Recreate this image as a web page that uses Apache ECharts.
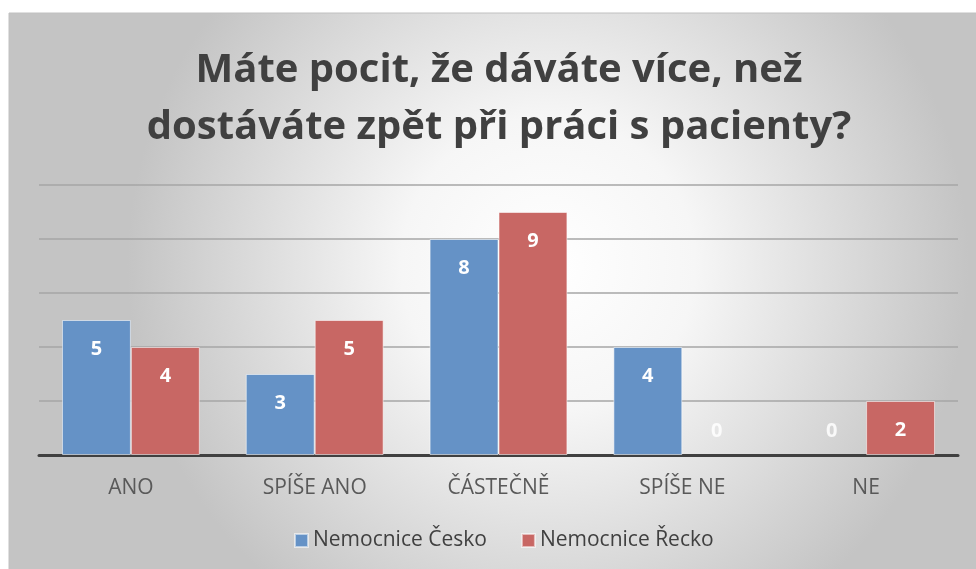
<!DOCTYPE html>
<html>
<head>
<meta charset="utf-8">
<script src="https://cdn.jsdelivr.net/npm/echarts@6/dist/echarts.min.js"></script>
<style>
  html, body { margin: 0; padding: 0; background: #fff; }
  #main { width: 976px; height: 569px; }
</style>
</head>
<body>
<div id="main"></div>
<script>
// kategorie a hodnoty
var categories = ['ANO', 'SPÍŠE ANO', 'ČÁSTEČNĚ', 'SPÍŠE NE', 'NE'];
var seriesNames = ['Nemocnice Česko', 'Nemocnice Řecko'];
var cesko = [5, 3, 8, 4, 0];
var recko = [4, 5, 9, 0, 2];
var yTicks = [0, 2, 4, 6, 8, 10];

var barcolors = ['#6592c6', '#c86764'];
var fontname = '"Open Sans", "Noto Sans", sans-serif';

function makedata(values) {//nula: bez okraje, popisek nad osou
    return values.map(function (v) {
        if (v === 0) {
            return {
                value: v,
                itemStyle: { borderWidth: 0 },
                label: { position: 'top', distance: 14, color: 'rgba(255,255,255,0.85)' }
            };
        }
        return v;
    });
}

function makeseries(name, values, color) {
    return {
        name: name,
        type: 'bar',
        barGap: '0%',
        barCategoryGap: '25%',
        data: makedata(values),
        itemStyle: {
            color: color,
            borderColor: 'rgba(255,255,255,0.55)',
            borderWidth: 1
        },
        label: {
            show: true,
            position: 'insideTop',
            distance: 19,
            color: '#ffffff',
            fontFamily: fontname,
            fontWeight: 'bold',
            fontSize: 20
        }
    };
}

var myChart = echarts.init(document.getElementById('main'));
var option = {
    backgroundColor: '#ffffff',
    animation: false,
    graphic: [
        {
            type: 'rect',
            z: -100,
            shape: { x: 9, y: 13, width: 980, height: 560 },
            style: {
                fill: new echarts.graphic.RadialGradient(0.55, 0.45, 0.75, [
                    { offset: 0, color: '#ffffff' },
                    { offset: 0.35, color: '#f6f6f6' },
                    { offset: 1, color: '#c4c4c4' }
                ]),
                stroke: '#c0c0c0',
                lineWidth: 1
            }
        }
    ],
    title: {
        text: 'Máte pocit, že dáváte více, než\ndostáváte zpět při práci s pacienty?',
        left: 494,
        textAlign: 'center',
        top: 37,
        textStyle: {
            color: '#404040',
            fontFamily: fontname,
            fontWeight: 'bold',
            fontSize: 40,
            lineHeight: 57
        }
    },
    legend: {
        data: seriesNames,
        bottom: 13,
        left: 289,
        itemWidth: 13,
        itemHeight: 13,
        itemGap: 34,
        icon: 'rect',
        textStyle: {
            color: '#404040',
            fontFamily: fontname,
            fontSize: 21
        }
    },
    grid: {
        left: 39,
        right: 18,
        top: 185,
        bottom: 114,
        containLabel: false
    },
    xAxis: {
        type: 'category',
        data: categories,
        axisLine: { lineStyle: { color: '#404040', width: 3 } },
        axisTick: { show: false },
        axisLabel: {
            color: '#595959',
            fontFamily: fontname,
            fontSize: 21,
            margin: 23
        }
    },
    yAxis: {
        type: 'value',
        min: yTicks[0],
        max: yTicks[yTicks.length - 1],
        interval: 2,
        axisLabel: { show: false },
        axisLine: { show: false },
        axisTick: { show: false },
        splitLine: { lineStyle: { color: '#a6a6a6', width: 1.5 } }
    },
    series: [
        makeseries(seriesNames[0], cesko, barcolors[0]),
        makeseries(seriesNames[1], recko, barcolors[1])
    ]
};

myChart.setOption(option);
</script>
</body>
</html>
